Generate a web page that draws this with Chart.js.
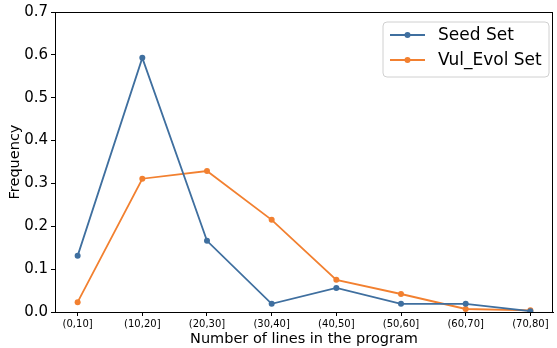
<!DOCTYPE html>
<html>
<head>
<meta charset="utf-8">
<script src="https://cdn.jsdelivr.net/npm/chart.js@4"></script>
<style>
  html, body { margin: 0; padding: 0; background: #fff; }
  #wrap { width: 557px; height: 348px; }
</style>
</head>
<body>
<div id="wrap"><canvas id="freqChart" width="557" height="348"></canvas></div>
<script>
// Line-count distribution of the programs

const categories = ['(0,10]', '(10,20]', '(20,30]', '(30,40]', '(40,50]', '(50,60]', '(60,70]', '(70,80]'];
const seedSet = [0.131, 0.593, 0.166, 0.019, 0.056, 0.019, 0.019, 0.002];
const vulEvolSet = [0.023, 0.311, 0.329, 0.215, 0.075, 0.042, 0.007, 0.004];
const yTicks = [0, 0.1, 0.2, 0.3, 0.4, 0.5, 0.6, 0.7];

const blue = '#3f6f9f';
const orange = '#f28030';
const font = 'DejaVu Sans';

function toPoints(values) {
  const pts = [];
  for (let i = 0; i < values.length; i++) pts.push({ x: i, y: values[i] });
  return pts;
}

// frame around the plot + matplotlib style legend
const framePlugin = {
  id: 'frame',
  afterDraw(chart) {
    const c = chart.ctx;
    const a = chart.chartArea;
    c.save();
    c.strokeStyle = '#000';
    c.lineWidth = 1;
    c.strokeRect(a.left + 0.5, a.top + 0.5, a.right - a.left - 1, a.bottom - a.top);

    // legend box
    const x0 = 383, y0 = 22, w = 166, h = 55, r = 4;
    c.beginPath();
    c.moveTo(x0 + r, y0);
    c.arcTo(x0 + w, y0, x0 + w, y0 + h, r);
    c.arcTo(x0 + w, y0 + h, x0, y0 + h, r);
    c.arcTo(x0, y0 + h, x0, y0, r);
    c.arcTo(x0, y0, x0 + w, y0, r);
    c.closePath();
    c.fillStyle = 'rgba(255,255,255,0.8)';
    c.fill();
    c.strokeStyle = '#d0d0d0';
    c.stroke();

    const items = chart.data.datasets;
    c.font = '17px "' + font + '"';
    c.textBaseline = 'middle';
    for (let i = 0; i < items.length; i++) {
      const yy = 35 + i * 25;
      c.strokeStyle = items[i].borderColor;
      c.lineWidth = 2;
      c.beginPath();
      c.moveTo(390, yy);
      c.lineTo(425, yy);
      c.stroke();
      c.fillStyle = items[i].borderColor;
      c.beginPath();
      c.arc(407.5, yy, 3, 0, Math.PI * 2);
      c.fill();
      c.fillStyle = '#000';
      c.fillText(items[i].label, 438, yy + 1);
    }
    c.restore();
  }
};

new Chart(document.getElementById('freqChart').getContext('2d'), {
  type: 'line',
  data: {
    datasets: [
      {
        label: 'Seed Set',
        data: toPoints(seedSet),
        borderColor: blue,
        backgroundColor: blue,
        borderWidth: 1.8,
        pointRadius: 3,
        pointBorderWidth: 0,
        tension: 0
      },
      {
        label: 'Vul_Evol Set',
        data: toPoints(vulEvolSet),
        borderColor: orange,
        backgroundColor: orange,
        borderWidth: 1.8,
        pointRadius: 3,
        pointBorderWidth: 0,
        tension: 0
      }
    ]
  },
  options: {
    responsive: false,
    animation: false,
    layout: { padding: { top: 12, right: 1, left: 7, bottom: 0 } },
    plugins: {
      legend: { display: false },
      tooltip: { enabled: false }
    },
    scales: {
      x: {
        type: 'linear',
        min: -0.35,
        max: 7.35,
        afterBuildTicks(axis) {
          axis.ticks = categories.map((c, i) => ({ value: i }));
        },
        afterFit(axis) { axis.height = 36; },
        ticks: {
          callback: (v) => categories[v],
          color: '#000',
          font: { family: font, size: 10 },
          padding: 2,
          maxRotation: 0,
          autoSkip: false
        },
        grid: { drawOnChartArea: false, drawTicks: true, tickLength: 4, color: '#000' },
        border: { color: '#000' },
        title: {
          display: true,
          text: 'Number of lines in the program',
          color: '#000',
          font: { family: font, size: 14.5 },
          padding: { top: 0, bottom: 0 }
        }
      },
      y: {
        min: 0,
        max: 0.7,
        afterBuildTicks(axis) {
          axis.ticks = yTicks.map(v => ({ value: v }));
        },
        afterFit(axis) { axis.width = 48; },
        ticks: {
          callback: (v) => v.toFixed(1),
          color: '#000',
          font: { family: font, size: 15 },
          padding: 3
        },
        grid: { drawOnChartArea: false, drawTicks: true, tickLength: 4, color: '#000' },
        border: { color: '#000' },
        title: {
          display: true,
          text: 'Frequency',
          color: '#000',
          font: { family: font, size: 14.5 },
          padding: { top: 0, bottom: 2 }
        }
      }
    }
  },
  plugins: [framePlugin]
});
</script>
</body>
</html>
